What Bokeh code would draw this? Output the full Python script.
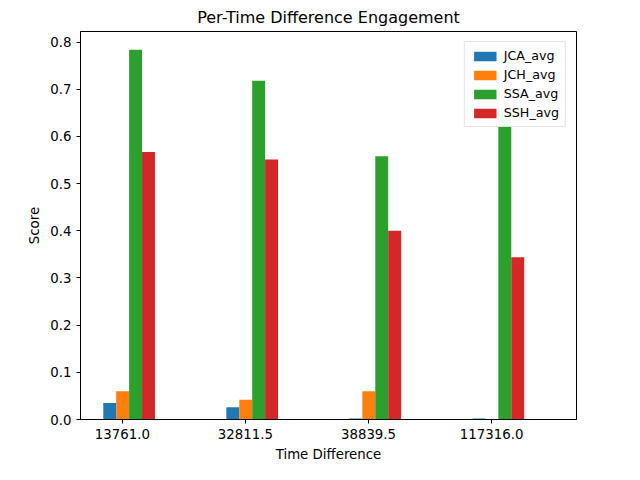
from bokeh.plotting import figure
from bokeh.models import FixedTicker, Legend, LegendItem
from bokeh.embed import file_html
from bokeh.resources import INLINE

groups = ["13761.0", "32811.5", "38839.5", "117316.0"]
series = ["JCA_avg", "JCH_avg", "SSA_avg", "SSH_avg"]
jca = [0.035, 0.026, 0.002, 0.002]
jch = [0.060, 0.042, 0.060, 0.0]
ssa = [0.784, 0.718, 0.558, 0.647]
ssh = [0.567, 0.551, 0.400, 0.344]
colors = ["#1f77b4", "#ff7f0e", "#2ca02c", "#d62728"]

p = figure(width=624, height=464, output_backend="svg", toolbar_location=None,
           x_range=(-0.34, 3.69), y_range=(0, 0.8225),
           min_border_left=80, min_border_right=48, min_border_top=25, min_border_bottom=35)
p.title.text = "Per-Time Difference Engagement"
p.title.align = "center"
p.title.text_font = "DejaVu Sans"
p.title.text_font_size = "12pt"
p.title.text_font_style = "normal"
p.title.text_color = "black"

w = 0.105
items = []
xs = list(range(len(groups)))
for k, (name, vals) in enumerate(zip(series, [jca, jch, ssa, ssh])):
    off = (k - 1.5) * w + 0.055
    r = p.vbar(x=[x + off for x in xs], top=vals, width=w, color=colors[k], line_color=None)
    items.append(LegendItem(label=name, renderers=[r]))

leg = Legend(items=items, location="top_right", label_text_font="DejaVu Sans",
             label_text_font_size="9.5pt", label_text_color="black",
             border_line_color="#cccccc", glyph_width=28,
             glyph_height=12, spacing=4, padding=6, label_height=12)
p.add_layout(leg)

p.xaxis.ticker = FixedTicker(ticks=xs)
p.xaxis.major_label_overrides = {i: g for i, g in enumerate(groups)}
p.yaxis.ticker = FixedTicker(ticks=[0, 0.1, 0.2, 0.3, 0.4, 0.5, 0.6, 0.7, 0.8])
p.yaxis.major_label_overrides = {0: "0.0", 0.1: "0.1", 0.2: "0.2", 0.3: "0.3", 0.4: "0.4",
                                 0.5: "0.5", 0.6: "0.6", 0.7: "0.7", 0.8: "0.8"}
p.xaxis.axis_label = "Time Difference"
p.yaxis.axis_label = "Score"
for ax in [p.xaxis, p.yaxis]:
    ax.axis_label_text_font = "DejaVu Sans"
    ax.axis_label_text_font_style = "normal"
    ax.axis_label_text_font_size = "10pt"
    ax.axis_label_text_color = "black"
    ax.major_label_text_font = "DejaVu Sans"
    ax.major_label_text_font_size = "10pt"
    ax.major_label_text_color = "black"
    ax.minor_tick_line_color = None
    ax.axis_line_color = "black"
    ax.major_tick_line_color = "black"
    ax.major_tick_out = 4
    ax.major_tick_in = 0
p.grid.visible = False
p.outline_line_color = "black"

open("out.html", "w").write(file_html(p, INLINE))
